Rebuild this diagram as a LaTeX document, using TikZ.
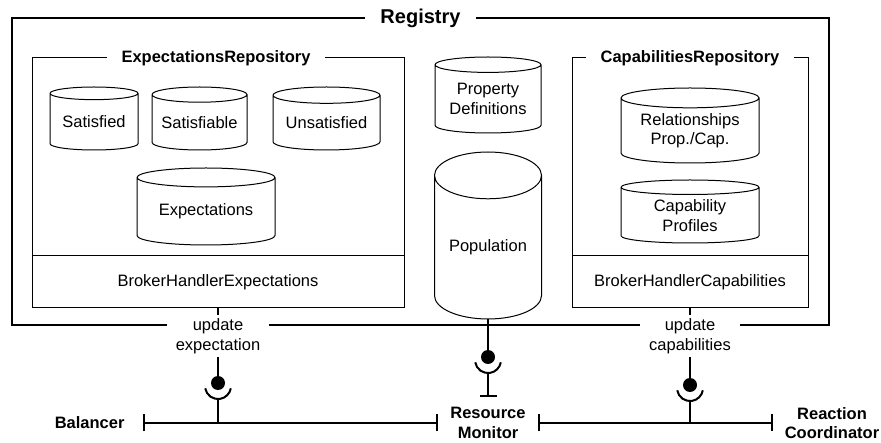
\documentclass[tikz,border=0pt]{standalone}
\usepackage{fontspec}
\setmainfont{Liberation Sans}
\usetikzlibrary{positioning}
\usetikzlibrary{shapes.geometric}
\usetikzlibrary{arrows.meta}
\newcommand{\mytext}{\fontsize{16.5}{19.5}\selectfont}
\newcommand{\mybold}{\fontsize{16.5}{19.5}\selectfont\bfseries}
\tikzstyle{mybox} = [draw, line width=1pt, inner sep=0pt, font=\mytext]
\tikzstyle{mydb} = [cylinder, shape border rotate=90, anchor=shape center, draw, line width=1pt, aspect=0.2, inner sep=0pt, align=center, font=\mytext]
\tikzstyle{mytitle} = [fill=white, inner xsep=15pt, inner ysep=2pt, font=\mybold]
\tikzstyle{mylabel} = [fill=white, align=center, inner xsep=9pt, inner ysep=3pt, font=\mytext]
\tikzstyle{myball} = [circle, fill, inner sep=0pt, minimum size=14pt]
\tikzstyle{myport} = [line width=2pt]
\tikzstyle{mybus} = [line width=2pt, {Bar[width=17pt]}-{Bar[width=17pt]}]

\begin{document}
\begin{tikzpicture}[x=1pt, y=-1pt]
        \useasboundingbox (0,0) rectangle (881,443);

        % Registry
        \node[mybox, line width=2pt, minimum width=817pt, minimum height=307pt] (reg) at (420.5,171.5) {};
        \node[mytitle, font=\fontsize{20}{24}\selectfont\bfseries] (reg_t) at (420.5,18) {Registry};

        % Expectations repository
        \node[mybox, minimum width=372pt, minimum height=250pt] (exp_repo) at (218,183) {};
        \node[mytitle] (exp_t) at (216,58) {ExpectationsRepository};
        \node[mybox, minimum width=372pt, minimum height=52pt] (exp_h) at (218,282) {BrokerHandlerExpectations};
        \node[mydb, minimum width=88pt, minimum height=63pt] (db_1) at (94,118.5) {Satisfied};
        \node[mydb, minimum width=95pt, minimum height=63pt] (db_2) at (199.5,118.5) {Satisfiable};
        \node[mydb, minimum width=107pt, minimum height=63pt] (db_3) at (326.5,118.5) {Unsatisfied};
        \node[mydb, minimum width=138pt, minimum height=77pt] (db_4) at (206,206.5) {Expectations};

        % Middle column
        \node[mydb, minimum width=106pt, minimum height=76pt] (db_5) at (488,95) {Property\\Definitions};
        \node[mydb, aspect=0.6, minimum width=107pt, minimum height=167pt] (db_6) at (488,235.5) {Population};

        % Capabilities repository
        \node[mybox, minimum width=236pt, minimum height=250pt] (cap_repo) at (690,183) {};
        \node[mytitle] (cap_t) at (690,58) {CapabilitiesRepository};
        \node[mybox, minimum width=236pt, minimum height=52pt] (cap_h) at (690,282) {BrokerHandlerCapabilities};
        \node[mydb, minimum width=138pt, minimum height=75pt] (db_7) at (690,125.5) {Relationships\\Prop./Cap.};
        \node[mydb, minimum width=138pt, minimum height=63pt] (db_8) at (690,211.5) {Capability\\Profiles};

        % Interfaces
        \node[mylabel] (exp_l) at (218,336) {update\\expectation};
        \node[mylabel] (cap_l) at (690,336) {update\\capabilities};
        \node[myball] (exp_b) at (218,383) {};
        \node[myball] (cap_b) at (690,385) {};
        \node[myball] (pop_b) at (488,357) {};
        \coordinate (exp_s) at (205.2,388.3);
        \coordinate (cap_s) at (677.2,390.3);
        \coordinate (pop_s) at (475.2,362.3);
        \coordinate (exp_j) at (218,399);
        \coordinate (cap_j) at (690,401);
        \coordinate (pop_j) at (488,373);
        \coordinate (pop_e) at (488,397);

        % Components
        \node[font=\mybold, anchor=east] (bal) at (128,423) {Balancer};
        \node[font=\mybold, align=center] (mon) at (488,423) {Resource\\Monitor};
        \node[font=\mybold, align=center] (coo) at (832,423) {Reaction\\Coordinator};
        \coordinate (bus_1a) at (143,423);
        \coordinate (bus_1b) at (438,423);
        \coordinate (bus_2a) at (538,423);
        \coordinate (bus_2b) at (773,423);

        % Connectors
        \draw[myport] (exp_h.south) -- (exp_l.north);
        \draw[myport] (exp_l.south) -- (exp_b);
        \draw[myport] (exp_s) arc[start angle=190, end angle=350, radius=13pt];
        \draw[myport] (exp_j) -- (exp_j |- bus_1a);
        \draw[myport] (cap_h.south) -- (cap_l.north);
        \draw[myport] (cap_l.south) -- (cap_b);
        \draw[myport] (cap_s) arc[start angle=190, end angle=350, radius=13pt];
        \draw[myport] (cap_j) -- (cap_j |- bus_2a);
        \draw[myport] (db_6.south) -- (pop_b);
        \draw[myport] (pop_s) arc[start angle=190, end angle=350, radius=13pt];
        \draw[myport, -{Bar[width=17pt]}] (pop_j) -- (pop_e);
        \draw[mybus] (bus_1a) -- (bus_1b);
        \draw[mybus] (bus_2a) -- (bus_2b);
\end{tikzpicture}
\end{document}
